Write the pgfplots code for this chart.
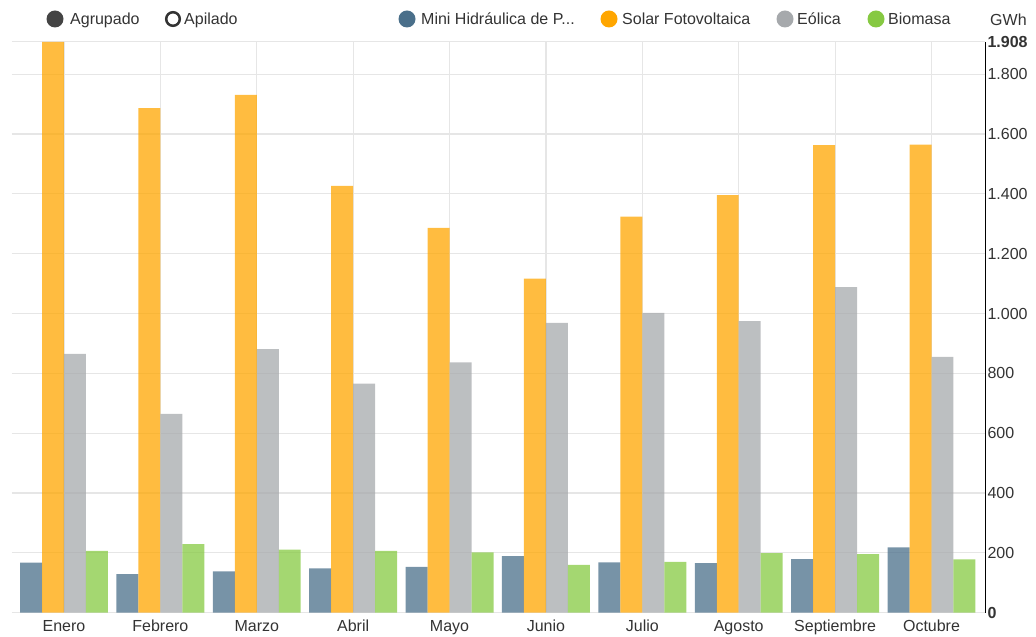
\documentclass[border=0pt]{standalone}
\usepackage{fontspec}
\setmainfont{Liberation Sans}
\usepackage{pgfplots}
\usepackage{pgfplotstable}
\pgfplotsset{compat=1.18}

\definecolor{hidro}{HTML}{4A6F8A}
\definecolor{solar}{HTML}{FFA600}
\definecolor{eolica}{HTML}{A6A9AC}
\definecolor{biomasa}{HTML}{86C942}
\definecolor{gridc}{HTML}{E6E6E6}
\definecolor{txt}{HTML}{333333}
\definecolor{boton}{HTML}{444444}

% Producción mensual por tecnología (GWh)
\pgfplotstableread{
mes hidro solar eolica biomasa
0   167   1908  865    207
1   129   1687  665    229
2   138   1731  881    211
3   148   1427  766    207
4   153   1286  837    202
5   189   1117  969    160
6   168   1324  1002   170
7   166   1396  975    199
8   179   1563  1088   196
9   218   1565  855    178
}\datos

\newcommand{\fs}{\fontsize{16}{19}\selectfont}

\begin{document}
\begin{tikzpicture}[x=1pt,y=1pt]
\useasboundingbox (0,0) rectangle (1036,637);
\begin{axis}[
  at={(11.7pt,24.3pt)}, anchor=south west,
  scale only axis, width=973.3pt, height=570.8pt,
  xmin=-0.5425, xmax=9.555, ymin=0, ymax=1908,
  ybar, bar width=0.228,
  axis y line*=right, axis x line*=bottom,
  x axis line style={draw=none},
  y axis line style={black, line width=1pt, -},
  xtick={0,...,9},
  xticklabels={Enero,Febrero,Marzo,Abril,Mayo,Junio,Julio,Agosto,Septiembre,Octubre},
  ytick={0,200,400,600,800,1000,1200,1400,1600,1800,1908},
  yticklabels={\textbf{0},200,400,600,800,1.000,1.200,1.400,1.600,1.800,\textbf{1.908}},
  major tick length=0pt,
  grid=major,
  major grid style={gridc, line width=1.2pt},
  tick label style={font=\fs, text=txt},
  yticklabel style={anchor=west, xshift=-1pt},
  xticklabel style={anchor=north, yshift=-3pt, text height=12pt, text depth=3.5pt},
  every axis plot/.append style={draw=none, fill opacity=0.75},
]
\addplot[fill=hidro,   bar shift=-0.342] table[x=mes, y=hidro]   {\datos};
\addplot[fill=solar,   bar shift=-0.114] table[x=mes, y=solar]   {\datos};
\addplot[fill=eolica,  bar shift=0.114]  table[x=mes, y=eolica]  {\datos};
\addplot[fill=biomasa, bar shift=0.342]  table[x=mes, y=biomasa] {\datos};
\end{axis}

% unidad del eje
\node[anchor=base west, inner sep=0, font=\fs, text=txt] at (990,611.3) {GWh};

% selector de modo
\fill[boton] (55,618) circle (8.5);
\node[anchor=base west, inner sep=0, font=\fs, text=txt] at (70,612.3) {Agrupado};
\draw[txt, line width=2.5pt] (173,618) circle (6.8);
\node[anchor=base west, inner sep=0, font=\fs, text=txt] at (184,612.3) {Apilado};

% leyenda de series
\fill[hidro] (407,618) circle (8.5);
\node[anchor=base west, inner sep=0, font=\fs, text=txt] at (421,612.3) {Mini Hidráulica de P...};
\fill[solar] (609,618) circle (8.5);
\node[anchor=base west, inner sep=0, font=\fs, text=txt] at (622,612.3) {Solar Fotovoltaica};
\fill[eolica] (785,618) circle (8.5);
\node[anchor=base west, inner sep=0, font=\fs, text=txt] at (797,612.3) {Eólica};
\fill[biomasa] (876,618) circle (8.5);
\node[anchor=base west, inner sep=0, font=\fs, text=txt] at (888,612.3) {Biomasa};
\end{tikzpicture}
\end{document}
